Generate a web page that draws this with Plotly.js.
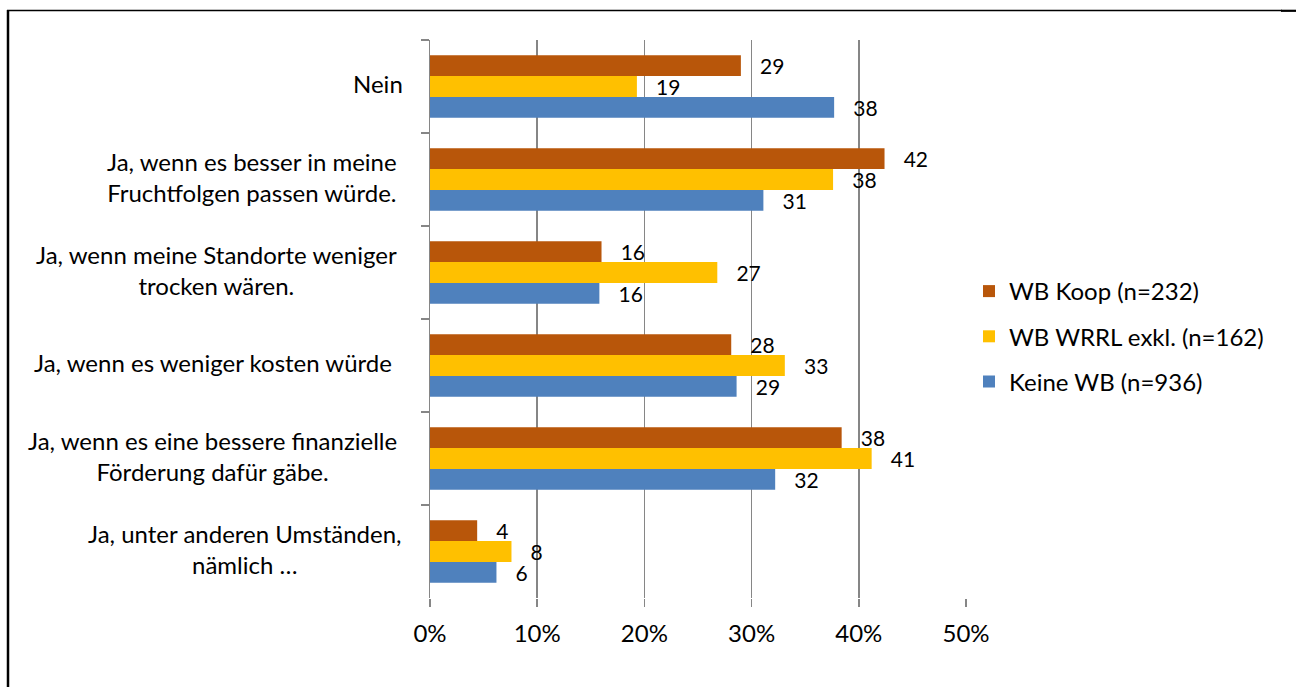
<!DOCTYPE html>
<html>
<head>
<meta charset="utf-8">
<script src="https://cdn.plot.ly/plotly-3.0.1.min.js"></script>
<style>
html,body{margin:0;padding:0;background:#fff;}
#chart{width:1296px;height:687px;}
</style>
</head>
<body>
<div id="chart"></div>
<script>
// Categories (top to bottom)
var categories = ["Nein", "Fruchtfolgen", "Standorte", "Kosten", "Foerderung", "Andere"];
var categoryLabels = [
  "Nein",
  "Ja, wenn es besser in meine<br>Fruchtfolgen passen würde.",
  "Ja, wenn meine Standorte weniger<br>trocken wären.",
  "Ja, wenn es weniger kosten würde",
  "Ja, wenn es eine bessere finanzielle<br>Förderung dafür gäbe.",
  "Ja, unter anderen Umständen,<br>nämlich …"
];
var seriesNames = ["WB Koop (n=232)", "WB WRRL exkl. (n=162)", "Keine WB (n=936)"];
var koop  = [29.0, 42.4, 16.0, 28.1, 38.4, 4.4];
var wrrl  = [19.3, 37.6, 26.8, 33.1, 41.2, 7.6];
var keine = [37.7, 31.1, 15.8, 28.6, 32.2, 6.2];
var xTickVals = [0, 10, 20, 30, 40, 50];
var xTickText = ["0%", "10%", "20%", "30%", "40%", "50%"];
var colors = ["#B8560A", "#FFC000", "#4F81BD"];

var FONT = "Lato, 'Open Sans', sans-serif";
var FS = 24;
var LFS = 21;
var labelShift = [-25, -31, -31, -36, -31, -26];

function mk(vals, i) {
  return {
    type: "bar", orientation: "h",
    x: vals, y: categories,
    name: seriesNames[i],
    legendgroup: "g" + i,
    marker: {color: colors[i], line: {width: 0}},
    texttemplate: "\u00a0\u00a0\u00a0%{x:.0f}",
    textposition: "outside",
    constraintext: "none",
    textfont: {family: FONT, size: LFS, color: "#000"},
    cliponaxis: false,
    hoverinfo: "x+name"
  };
}
var data = [mk(koop, 0), mk(wrrl, 1), mk(keine, 2)];

var annotations = categories.map(function (c, i) {
  return {
    xref: "paper", yref: "y", x: 0, y: c,
    xanchor: "right", yanchor: "middle", align: "center",
    xshift: labelShift[i], yshift: 3, showarrow: false,
    text: categoryLabels[i],
    font: {family: FONT, size: FS, color: "#000"}
  };
});

function px2x(p) { return (p - 430) / 536; }
function py2y(p) { return (598 - p) / 558; }
var shapes = [
  {type: "line", xref: "paper", yref: "paper", x0: px2x(8), x1: px2x(8), y0: py2y(10), y1: py2y(690), line: {color: "#000", width: 2.5}},
  {type: "line", xref: "paper", yref: "paper", x0: px2x(7), x1: px2x(1282), y0: py2y(10.5), y1: py2y(10.5), line: {color: "#000", width: 1.3}},
  {type: "line", xref: "paper", yref: "paper", x0: px2x(1281), x1: px2x(1296), y0: py2y(10.8), y1: py2y(10.8), line: {color: "#000", width: 2.2}}
];

var layout = {
  width: 1296, height: 687,
  margin: {l: 430, r: 330, t: 40, b: 89, pad: 0},
  paper_bgcolor: "#fff", plot_bgcolor: "#fff",
  barmode: "group", bargap: 0.33, bargroupgap: 0,
  font: {family: FONT, size: FS, color: "#000"},
  showlegend: true,
  legend: {
    x: px2x(969), xanchor: "left", y: py2y(269), yanchor: "top",
    font: {family: FONT, size: FS, color: "#000"},
    tracegroupgap: 11, bgcolor: "rgba(0,0,0,0)"
  },
  xaxis: {
    range: [0, 50], tickvals: xTickVals, ticktext: xTickText,
    showgrid: true, gridcolor: "#868686", gridwidth: 1.5,
    showline: false, zeroline: false,
    ticks: "outside", ticklen: 8, tickcolor: "#868686", tickwidth: 1.5,
    tickfont: {family: FONT, size: FS, color: "#000"},
    ticklabelstandoff: 6,
    fixedrange: true
  },
  yaxis: {
    type: "category", autorange: "reversed",
    showticklabels: false,
    showline: true, linecolor: "#868686", linewidth: 1.5,
    ticks: "outside", tickson: "boundaries", ticklen: 8, tickcolor: "#868686", tickwidth: 1.5,
    showgrid: false, zeroline: false,
    fixedrange: true
  },
  annotations: annotations,
  shapes: shapes
};

Plotly.newPlot("chart", data, layout, {displayModeBar: false, staticPlot: true});
</script>
</body>
</html>
